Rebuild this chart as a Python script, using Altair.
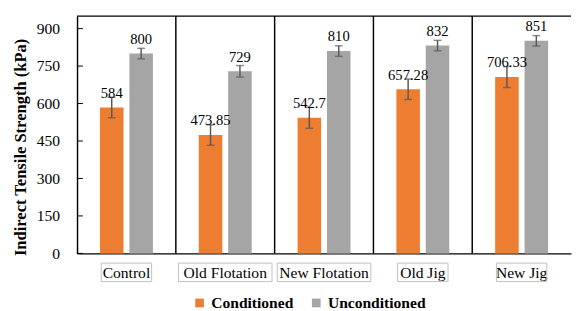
import altair as alt
import pandas as pd

categories = ["Control", "Old Flotation", "New Flotation", "Old Jig", "New Jig"]
series = ["Conditioned", "Unconditioned"]
conditioned = [584, 473.85, 542.7, 657.28, 706.33]
unconditioned = [800, 729, 810, 832, 851]
cond_err = [41, 41, 42, 41, 42]
uncond_err = [21, 23, 21, 21, 21]
colors = ["#ED7D31", "#A5A5A5"]
y_ticks = [0, 150, 300, 450, 600, 750, 900]

W, H = 508, 244
FONT = "Times New Roman"

rows = []
for c, v, e in zip(categories, conditioned, cond_err):
    rows.append({"category": c, "series": series[0], "value": v, "lo": v - e, "hi": v + e, "label": f"{v:g}"})
for c, v, e in zip(categories, unconditioned, uncond_err):
    rows.append({"category": c, "series": series[1], "value": v, "lo": v - e, "hi": v + e, "label": f"{v:g}"})
df = pd.DataFrame(rows)

x_enc = alt.X("category:N", sort=categories,
              scale=alt.Scale(paddingInner=0, paddingOuter=0),
              axis=alt.Axis(title=None, labelAngle=0, ticks=False, tickSize=0,
                            domainColor="black", domainWidth=1.5, labelFont=FONT,
                            labelFontSize=16, labelColor="black", labelBaseline="alphabetic",
                            labelPadding=25, grid=False))
xo_enc = alt.XOffset("series:N", sort=series,
                     scale=alt.Scale(paddingInner=0.2, paddingOuter=0.78))

base = alt.Chart(df)

bars = base.mark_bar().encode(
    x=x_enc,
    xOffset=xo_enc,
    y=alt.Y("value:Q", scale=alt.Scale(domain=[0, 950], nice=False),
            axis=alt.Axis(values=y_ticks, title="Indirect Tensile Strength (kPa)",
                          titleFont=FONT, titleFontWeight="bold", titleFontSize=17,
                          titleColor="black", titlePadding=7, titleY=134.5,
                          labelFont=FONT, labelFontSize=16, labelColor="black",
                          ticks=False, tickSize=0, domainColor="black", domainWidth=1.5,
                          labelPadding=18, grid=False)),
    color=alt.Color("series:N", sort=series,
                    scale=alt.Scale(domain=series, range=colors),
                    legend=alt.Legend(title=None, orient="none", direction="horizontal",
                                      legendX=118, legendY=287,
                                      symbolType="square", symbolSize=80,
                                      symbolStrokeWidth=0, labelFont=FONT,
                                      labelFontWeight="bold", labelFontSize=16,
                                      labelColor="black", labelOffset=4,
                                      columnPadding=15)),
)

tick_df = pd.DataFrame({"v": y_ticks})
yticks = alt.Chart(tick_df).mark_rule(color="black", strokeWidth=1).encode(
    y="v:Q", x=alt.value(0), x2=alt.value(6))

err = base.mark_rule(color="#595959", strokeWidth=1.5).encode(
    x=alt.X("category:N", sort=categories), xOffset=xo_enc,
    y="lo:Q", y2="hi:Q")
cap_lo = base.mark_tick(color="#595959", thickness=1.5, size=8, orient="horizontal").encode(
    x=alt.X("category:N", sort=categories), xOffset=xo_enc, y="lo:Q")
cap_hi = base.mark_tick(color="#595959", thickness=1.5, size=8, orient="horizontal").encode(
    x=alt.X("category:N", sort=categories), xOffset=xo_enc, y="hi:Q")

labels = base.mark_text(dy=-10, baseline="alphabetic", font=FONT, fontSize=15,
                        color="black").encode(
    x=alt.X("category:N", sort=categories), xOffset=xo_enc,
    y="value:Q", text="label:N")

sep_df = pd.DataFrame({"category": categories[1:]})
seps = alt.Chart(sep_df).mark_rule(color="black", strokeWidth=1.5).encode(
    x=alt.X("category:N", sort=categories, bandPosition=0),
    y=alt.value(0), y2=alt.value(H))

top_df = pd.DataFrame({"k": [0]})
top_line = alt.Chart(top_df).mark_rule(color="black", strokeWidth=1.5).encode(
    x=alt.value(0), x2=alt.value(W), y=alt.value(0))

box_df = pd.DataFrame({"idx": list(range(len(categories))), "label": categories})
boxes = alt.Chart(box_df).transform_calculate(
    w="(length(datum.label) * 7.4) / " + str(W / len(categories)),
).transform_calculate(
    bx="datum.idx + 0.5 - datum.w / 2",
    bx2="datum.idx + 0.5 + datum.w / 2",
).mark_rect(fill="white", fillOpacity=0, stroke="#BFBFBF", strokeWidth=1).encode(
    x=alt.X("bx:Q", scale=alt.Scale(domain=[0, len(categories)], nice=False, zero=False), axis=None),
    x2="bx2:Q",
    y=alt.value(H + 10), y2=alt.value(H + 29))

inner = alt.layer(bars, yticks, err, cap_lo, cap_hi, labels, seps, top_line)
chart = alt.layer(inner, boxes).resolve_scale(x="independent").properties(
    width=W, height=H,
    padding={"left": 4, "top": 3, "right": 0, "bottom": 0},
    background="white",
).configure_view(stroke=None)

chart.save("out.html", embed_options={"renderer": "svg", "actions": False})
